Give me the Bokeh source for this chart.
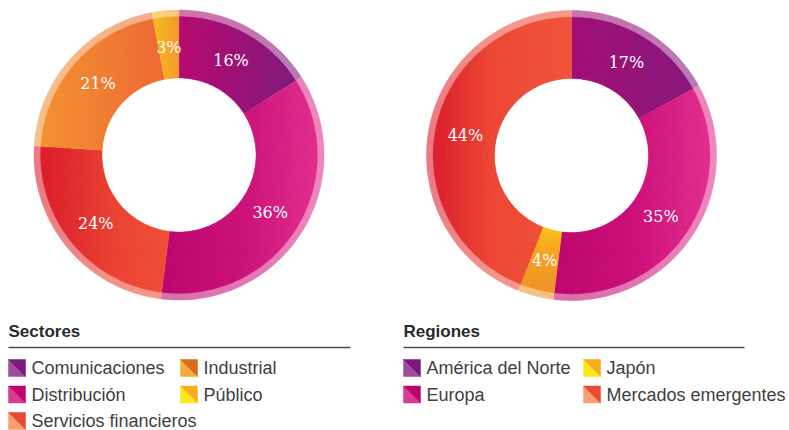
import numpy as np
from bokeh.plotting import figure
from bokeh.models import Range1d
from bokeh.embed import file_html
from bokeh.resources import INLINE
from bokeh.core.properties import value

# ---------------- data ----------------
sector_title = "Sectores"
sector_names = ["Comunicaciones", "Distribución", "Servicios financieros", "Industrial", "Público"]
sector_values = [16, 36, 24, 21, 3]

region_title = "Regiones"
region_names = ["América del Norte", "Europa", "Japón", "Mercados emergentes"]
region_values = [17, 35, 4, 44]

# ---------------- style ----------------
# gradient stops (t, colour) along a direction ("h" = left->right, "v" = top->bottom)
GRAD = {
    "Comunicaciones": ("h", [(0, "#B70A70"), (1, "#7E1B7E")]),
    "Distribución": ("h", [(0, "#BC076E"), (0.5, "#CB127A"), (1, "#E4308F")]),
    "Servicios financieros": ("h", [(0, "#DA1A2C"), (0.6, "#EA4333"), (1, "#EF5037")]),
    "Industrial": ("h", [(0, "#F39430"), (1, "#EE6934")]),
    "Público": ("h", [(0, "#FBBD1A"), (1, "#F19A2B")]),
    "América del Norte": ("h", [(0, "#A30E75"), (1, "#841A7D")]),
    "Europa": ("h", [(0, "#BE076E"), (0.5, "#CC117A"), (1, "#E4318F")]),
    "Japón": ("v", [(0, "#FCC015"), (0.45, "#F39E24"), (1, "#F0902A")]),
    "Mercados emergentes": ("h", [(0, "#DA1A2D"), (0.45, "#EC4835"), (1, "#F0533A")]),
}
SWATCH = {  # (light lower-left, dark upper-right)
    "Comunicaciones": ("#A04C9A", "#7A1A7C"),
    "América del Norte": ("#A04C9A", "#7A1A7C"),
    "Distribución": ("#D93B95", "#BC066E"),
    "Europa": ("#D93B95", "#BC066E"),
    "Servicios financieros": ("#F8A070", "#EB4A32"),
    "Mercados emergentes": ("#F8A070", "#EB4A32"),
    "Industrial": ("#F2AE38", "#E06A1C"),
    "Público": ("#FDE81C", "#F8AE1C"),
    "Japón": ("#FDE81C", "#F8AE1C"),
}

W, H = 789, 430


def X(rx):
    return rx


def Y(ry):
    return H - ry


def hex2rgb(h):
    h = h.lstrip("#")
    return np.array([int(h[i:i + 2], 16) for i in (0, 2, 4)], dtype=float)


def rgb2hex(c):
    c = np.clip(np.round(c), 0, 255).astype(int)
    return "#%02x%02x%02x" % tuple(c)


def grad_color(stops, t):
    t = min(max(t, 0.0), 1.0)
    for (t0, c0), (t1, c1) in zip(stops[:-1], stops[1:]):
        if t <= t1:
            u = (t - t0) / (t1 - t0) if t1 > t0 else 0
            return hex2rgb(c0) * (1 - u) + hex2rgb(c1) * u
    return hex2rgb(stops[-1][1])


def tint(c, w=0.42):
    return c * (1 - w) + 255 * w


p = figure(width=W, height=H, x_range=Range1d(0, W), y_range=Range1d(0, H),
           output_backend="svg", toolbar_location=None, min_border=0,
           x_axis_type=None, y_axis_type=None)
p.grid.visible = False
p.outline_line_color = None
p.background_fill_color = "white"
p.border_fill_color = "white"

R_IN, R_RIM, R_OUT = 77, 139, 145
N_BANDS = 10
LABEL_R = 108
SERIF = value("DejaVu Serif")
SANS = value("Liberation Sans")


def donut(cx, cy, names, vals):
    total = float(sum(vals))
    start = 0.0
    radii = list(np.linspace(R_IN, R_RIM, N_BANDS + 1))
    bands = list(zip(radii[:-1], radii[1:])) + [(R_RIM, R_OUT)]
    wi, wo, a0, a1, cols = [], [], [], [], []
    lx, ly, lt = [], [], []
    eps = 0.004
    for n, v in zip(names, vals):
        th0 = start
        th1 = start + v / total * 2 * np.pi
        direction, stops = GRAD[n]
        k = max(3, int(np.degrees(th1 - th0)))
        edges = np.linspace(th0, th1, k + 1)
        tt = np.linspace(th0, th1, 300)
        rr = np.array([R_IN, R_OUT])
        if direction == "h":
            proj = np.outer(rr, np.sin(tt))
        else:
            proj = -np.outer(rr, np.cos(tt))
        smin, smax = proj.min(), proj.max()
        for i in range(k):
            m = 0.5 * (edges[i] + edges[i + 1])
            lo = edges[i] - (eps if i > 0 else 0)
            hi = edges[i + 1] + (eps if i < k - 1 else 0)
            for j, (r0, r1) in enumerate(bands):
                rm = 0.5 * (r0 + r1)
                s = rm * np.sin(m) if direction == "h" else -rm * np.cos(m)
                t = (s - smin) / (smax - smin) if smax > smin else 0.5
                c = grad_color(stops, t)
                if j == len(bands) - 1:
                    c = tint(c)
                wi.append(r0 - (0.3 if j > 0 else 0))
                wo.append(r1)
                a0.append(np.pi / 2 - hi)
                a1.append(np.pi / 2 - lo)
                cols.append(rgb2hex(c))
        mid = 0.5 * (th0 + th1)
        lx.append(cx + LABEL_R * np.sin(mid))
        ly.append(cy + LABEL_R * np.cos(mid))
        lt.append(f"{v}%")
        start = th1
    p.annular_wedge(x=cx, y=cy, inner_radius=wi, outer_radius=wo,
                    start_angle=a0, end_angle=a1, fill_color=cols,
                    line_color=cols, line_width=0.3)
    p.text(x=lx, y=ly, text=lt, text_color="white", text_font=SERIF,
           text_font_size="16px", text_align="center", text_baseline="middle")


donut(X(178.5), Y(154.5), sector_names, sector_values)
donut(X(571), Y(155), region_names, region_values)


def legend(x0, x1, col2, title, names, nrows):
    p.text(x=[X(x0)], y=[Y(331)], text=[title], text_color="#2b2b2b",
           text_font=SANS, text_font_size="17px", text_font_style="bold",
           text_baseline="middle", text_align="left")
    p.segment(x0=[X(x0)], y0=[Y(347)], x1=[X(x1)], y1=[Y(347)],
              line_color="#4a4a4a", line_width=1.5)
    xs_l, ys_l, c_l, xs_d, ys_d, c_d = [], [], [], [], [], []
    tx, ty, tt = [], [], []
    for i, n in enumerate(names):
        col, row = divmod(i, nrows)
        sx = x0 if col == 0 else col2
        cyr = 367.5 + 26.5 * row
        top, bot = Y(cyr - 8.5), Y(cyr + 8.5)
        l, r = X(sx), X(sx + 17)
        light, dark = SWATCH[n]
        xs_l.append([l, l, r]); ys_l.append([top, bot, bot]); c_l.append(light)
        xs_d.append([l, r, r]); ys_d.append([top, top, bot]); c_d.append(dark)
        tx.append(X(sx + 23)); ty.append(Y(cyr)); tt.append(n)
    p.patches(xs=xs_l, ys=ys_l, fill_color=c_l, line_color=c_l, line_width=0.5)
    p.patches(xs=xs_d, ys=ys_d, fill_color=c_d, line_color=c_d, line_width=0.5)
    p.text(x=tx, y=ty, text=tt, text_color="#404040", text_font=SANS,
           text_font_size="18px", text_baseline="middle", text_align="left")


legend(8, 350, 180, sector_title, sector_names, 3)
legend(403, 744, 583, region_title, region_names, 2)

open("out.html", "w").write(file_html(p, INLINE))
